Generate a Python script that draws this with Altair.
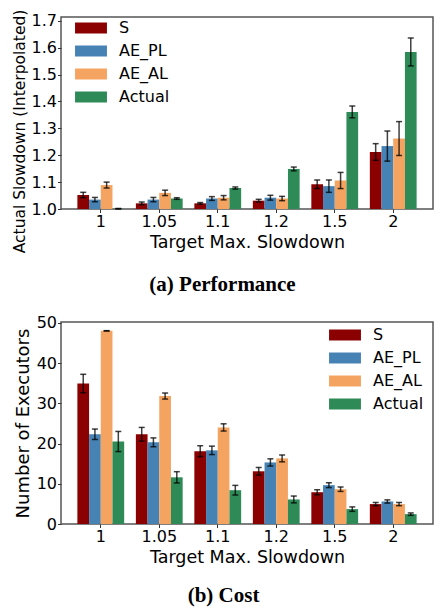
import altair as alt
import pandas as pd

categories = ["1", "1.05", "1.1", "1.2", "1.5", "2"]
series = ["S", "AE_PL", "AE_AL", "Actual"]
colors = ["#8B0000", "#4682B4", "#F4A460", "#2E8B57"]

perf_S = [1.052, 1.021, 1.021, 1.031, 1.092, 1.212]
perf_S_err = [0.010, 0.005, 0.003, 0.005, 0.016, 0.031]
perf_PL = [1.035, 1.035, 1.039, 1.042, 1.085, 1.234]
perf_PL_err = [0.008, 0.008, 0.007, 0.009, 0.023, 0.056]
perf_AL = [1.089, 1.060, 1.042, 1.039, 1.106, 1.262]
perf_AL_err = [0.011, 0.010, 0.008, 0.008, 0.030, 0.063]
perf_Actual = [1.001, 1.039, 1.078, 1.149, 1.361, 1.584]
perf_Actual_err = [0.001, 0.003, 0.004, 0.007, 0.022, 0.052]

cost_S = [34.9, 22.3, 18.1, 13.1, 7.9, 4.95]
cost_S_err = [2.3, 1.7, 1.35, 0.95, 0.6, 0.4]
cost_PL = [22.3, 20.3, 18.3, 15.3, 9.65, 5.6]
cost_PL_err = [1.3, 1.1, 1.05, 0.9, 0.6, 0.4]
cost_AL = [48.0, 31.8, 24.0, 16.3, 8.65, 4.95]
cost_AL_err = [0.05, 0.75, 0.9, 0.85, 0.55, 0.4]
cost_Actual = [20.5, 11.6, 8.4, 6.1, 3.7, 2.45]
cost_Actual_err = [2.5, 1.4, 1.2, 0.85, 0.55, 0.3]

perf_ticks = [1.0, 1.1, 1.2, 1.3, 1.4, 1.5, 1.6, 1.7]
cost_ticks = [0, 10, 20, 30, 40, 50]


def build(vals, errs, base):
    rows = []
    for s, v, e in zip(series, vals, errs):
        for c, vv, ee in zip(categories, v, e):
            rows.append({"cat": c, "series": s, "val": vv, "lo": vv - ee,
                         "hi": vv + ee, "base": base})
    return pd.DataFrame(rows)


perf_df = build([perf_S, perf_PL, perf_AL, perf_Actual],
                [perf_S_err, perf_PL_err, perf_AL_err, perf_Actual_err], 1.0)
cost_df = build([cost_S, cost_PL, cost_AL, cost_Actual],
                [cost_S_err, cost_PL_err, cost_AL_err, cost_Actual_err], 0.0)

SWATCH = "M-1.45,-0.5H1.45V0.5H-1.45Z"
W = 372


def panel(df, ytitle, ytitle_size, ytitle_y, domain, ticks, fmt, title, lx, ly, h, toff):
    xenc = alt.X("cat:N", sort=categories,
                 scale=alt.Scale(paddingInner=0.2, paddingOuter=0.28),
                 axis=alt.Axis(title="Target Max. Slowdown", labelAngle=0,
                               labelOverlap=False))
    xoff = alt.XOffset("series:N", sort=series,
                       scale=alt.Scale(domain=series, paddingInner=0, paddingOuter=0))
    yscale = alt.Scale(domain=domain, nice=False, zero=False)
    axis_args = dict(title=ytitle, values=ticks, format=fmt, titleFontSize=ytitle_size,
                     labelOverlap=False)
    if ytitle_y is not None:
        axis_args["titleY"] = ytitle_y

    def yenc(field):
        return alt.Y(field, scale=yscale, axis=alt.Axis(**axis_args))

    bars = alt.Chart(df).mark_bar(opacity=1).encode(
        x=xenc,
        xOffset=xoff,
        y=yenc("val:Q"),
        y2="base:Q",
        color=alt.Color("series:N", sort=series,
                        scale=alt.Scale(domain=series, range=colors),
                        legend=alt.Legend(title=None, orient="none",
                                          legendX=lx, legendY=ly,
                                          symbolType=SWATCH, symbolSize=484,
                                          symbolStrokeWidth=0, symbolOpacity=1,
                                          labelFontSize=16, labelFont="DejaVu Sans",
                                          labelColor="black", labelOffset=17,
                                          rowPadding=4, padding=0)),
    )
    rules = alt.Chart(df).mark_rule(color="black", opacity=0.75, strokeWidth=1.5).encode(
        x=xenc, xOffset=xoff, y=yenc("lo:Q"), y2="hi:Q")
    cap_lo = alt.Chart(df).mark_tick(color="black", opacity=0.75, thickness=1.5,
                                     size=6).encode(x=xenc, xOffset=xoff, y=yenc("lo:Q"))
    cap_hi = alt.Chart(df).mark_tick(color="black", opacity=0.75, thickness=1.5,
                                     size=6).encode(x=xenc, xOffset=xoff, y=yenc("hi:Q"))
    return alt.layer(bars, rules, cap_lo, cap_hi).properties(
        width=W, height=h,
        title=alt.TitleParams(title, orient="bottom", anchor="middle", frame="bounds",
                              font="Liberation Serif", fontSize=21, fontWeight="bold",
                              color="black", offset=toff),
    )


top = panel(perf_df, "Actual Slowdown (Interpolated)", 15.5, 114, [1.0, 1.714],
            perf_ticks, ".1f", "(a) Performance", 19, 0, 192, 21)
bottom = panel(cost_df, "Number of Executors", 18, None, [0, 50.2],
               cost_ticks, "d", "(b) Cost", W - 99, 2, 202, 19)

chart = alt.vconcat(top, bottom, spacing=18).resolve_scale(
    x="independent", y="independent", color="independent"
).properties(
    padding={"left": 3, "top": 0, "right": 0, "bottom": 0}
).configure_view(
    stroke="#555", strokeWidth=1.5
).configure_axis(
    grid=False, domain=False, labelFont="DejaVu Sans", titleFont="DejaVu Sans",
    labelFontSize=16, titleFontSize=17.5, labelColor="black", titleColor="black",
    titleFontWeight="normal", tickColor="#333", tickSize=3.5, labelPadding=1,
    titlePadding=4,
)

chart.save("out.html", embed_options={"renderer": "svg", "actions": False})
